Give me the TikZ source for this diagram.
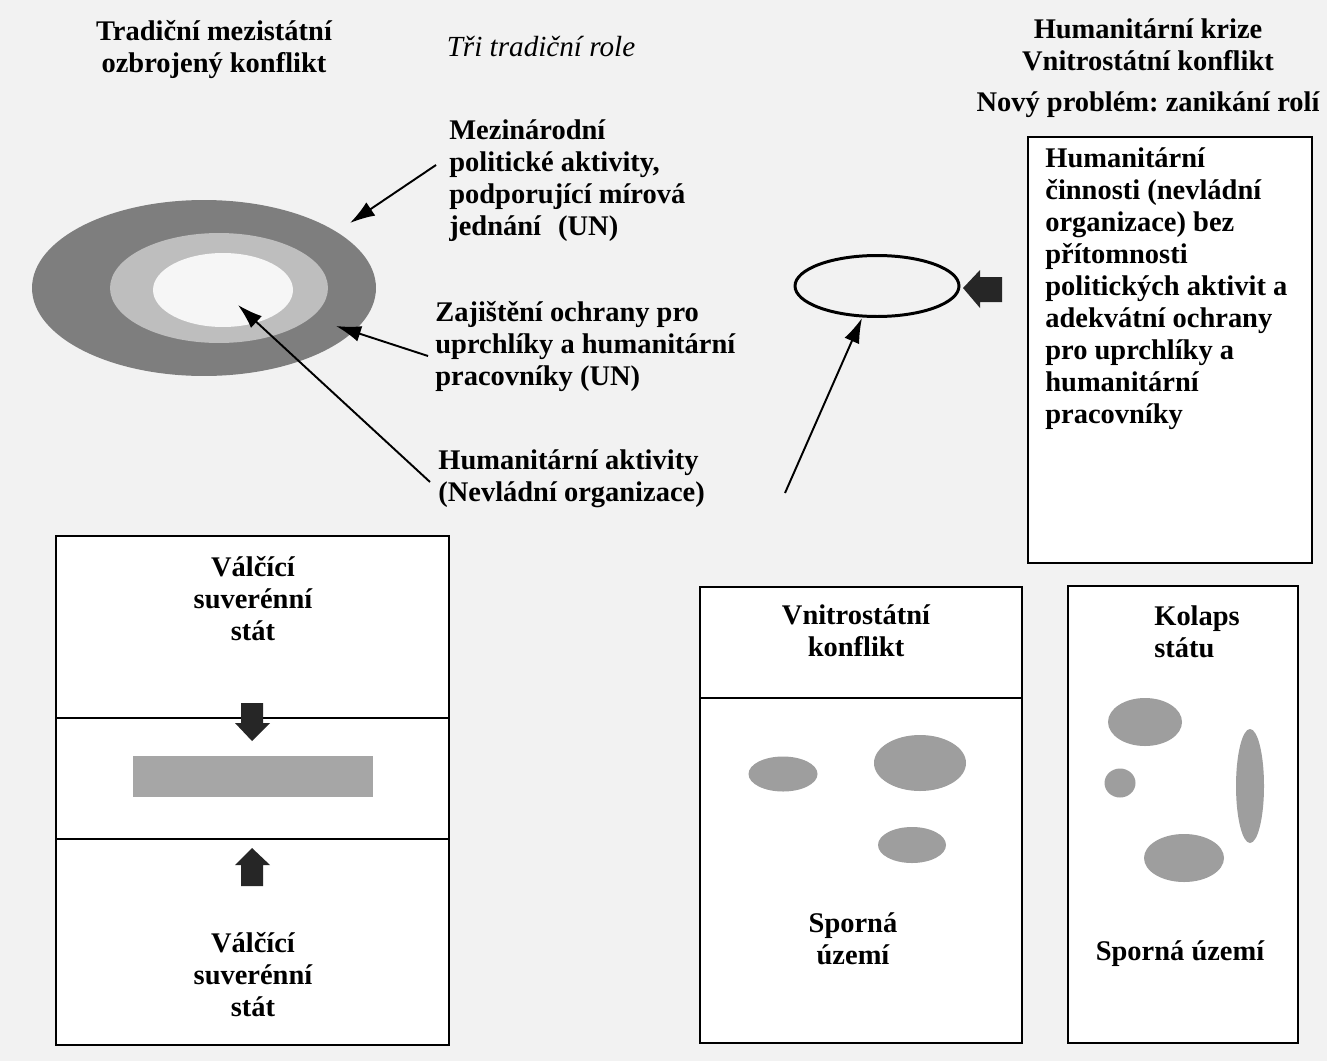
\documentclass[tikz,border=0pt]{standalone}
\usepackage{fontspec}
\setmainfont{Liberation Serif}
\usetikzlibrary{arrows.meta,shapes.geometric}
\frenchspacing

\definecolor{paper}{HTML}{F2F2F2}
\definecolor{ringdark}{HTML}{7E7E7E}
\definecolor{ringmid}{HTML}{BEBEBE}
\definecolor{ringin}{HTML}{F6F6F6}
\definecolor{blobgray}{HTML}{9E9E9E}

\begin{document}
\begin{tikzpicture}[x=0.02cm,y=-0.02cm,
  txt/.style={font=\fontsize{16.2}{18.2}\selectfont\bfseries, inner sep=0pt},
  lefttxt/.style={txt, align=left, anchor=west},
  midtxt/.style={txt, align=center},
  frame/.style={draw, line width=1.5pt, fill=white},
  ring/.style={ellipse, inner sep=0pt},
  pointer/.style={-{Latex[length=5mm,width=3.2mm]}, line width=1.1pt},
  blockarrow/.style={fill=black!85}]

\useasboundingbox (0,0) rectangle (1327,1061);
\fill[paper] (0,0) rectangle (1327,1061);

% left part: three traditional roles
\node[midtxt] (title1) at (214,50) {Tradiční mezistátní\\ozbrojený konflikt};
\node[txt, font=\fontsize{16.6}{18.2}\selectfont\itshape] (roles) at (541,47) {Tři tradiční role};

\node[ring, fill=ringdark, minimum width=6.88cm, minimum height=3.52cm] (outer) at (204,288) {};
\node[ring, fill=ringmid, minimum width=4.36cm, minimum height=2.2cm] (mid) at (219,288) {};
\node[ring, fill=ringin, minimum width=2.8cm, minimum height=1.48cm] (inner) at (223,290) {};

\node[lefttxt] (polit) at (449,181) {Mezinárodní\\politické aktivity,\\podporující mírová\\jednání\hspace{0.6em}(UN)};
\node[lefttxt] (protect) at (435,347) {Zajištění ochrany pro\\uprchlíky a humanitární\\pracovníky (UN)};
\node[lefttxt] (ngo) at (438,479) {Humanitární aktivity\\(Nevládní organizace)};

\coordinate (p1) at (436,165);
\coordinate (t1) at (350,223);
\coordinate (p2) at (428,356);
\coordinate (t2) at (336,326);
\coordinate (p3) at (430,482);
\coordinate (t3) at (238,305);
\draw[pointer] (p1) -- (t1);
\draw[pointer] (p2) -- (t2);
\draw[pointer] (p3) -- (t3);

% right part: humanitarian crisis
\node[midtxt] (title2) at (1148,45) {Humanitární krize\\Vnitrostátní konflikt};
\node[txt] (problem) at (1148,105) {Nový problém: zanikání rolí};

\draw[line width=1.5pt, fill=white] (1028,137) rectangle (1312,563);
\node[lefttxt] (alone) at (1045,289) {Humanitární\\činnosti (nevládní\\organizace) bez\\přítomnosti\\politických aktivit a\\adekvátní ochrany\\pro uprchlíky a\\humanitární\\pracovníky};

\node[ring, draw, line width=1.7pt, minimum width=3.28cm, minimum height=1.22cm] (empty) at (877,286) {};
\fill[blockarrow] (1002,277) -- (1002,302) -- (980,302) -- (980,308) -- (963,288)
  -- (980,270) -- (980,277) -- cycle;
\coordinate (p4) at (785,493);
\coordinate (t4) at (862,318);
\draw[pointer] (p4) -- (t4);

% bottom left: two states
\draw[frame] (56,536) rectangle (449,1045);
\draw[line width=1.5pt] (56,718) -- (449,718);
\draw[line width=1.5pt] (56,839) -- (449,839);
\node[midtxt] (state1) at (253,599) {Válčící\\suverénní\\stát};
\node[midtxt] (state2) at (253,975) {Válčící\\suverénní\\stát};
\fill[black!35] (133,756) rectangle (373,797);
\fill[blockarrow] (241,703) -- (263,703) -- (263,723) -- (270,723) -- (252,741)
  -- (235,723) -- (241,723) -- cycle;
\fill[blockarrow] (241,886) -- (263,886) -- (263,865) -- (270,865) -- (252,848)
  -- (235,865) -- (241,865) -- cycle;

% bottom middle and right
\draw[frame] (700,587) rectangle (1022,1043);
\draw[line width=1.5pt] (700,698) -- (1022,698);
\node[midtxt] (intra) at (856,631) {Vnitrostátní\\konflikt};
\node[midtxt] (disp1) at (853,939) {Sporná\\území};

\draw[frame] (1068,586) rectangle (1298,1043);
\node[lefttxt] (collapse) at (1154,632) {Kolaps\\státu};
\node[txt] (disp2) at (1180,954) {Sporná území};

\foreach \cx/\cy/\rx/\ry in {783/774/34.5/17.5, 920/763/46/28, 912/845/34/18,
  1145/722/37/24, 1120/783/15.5/14.5, 1250/786/14/57, 1184/858/40/24}
  \fill[blobgray] (\cx,\cy) ellipse [x radius=\rx*0.02cm, y radius=\ry*0.02cm];

\end{tikzpicture}
\end{document}
